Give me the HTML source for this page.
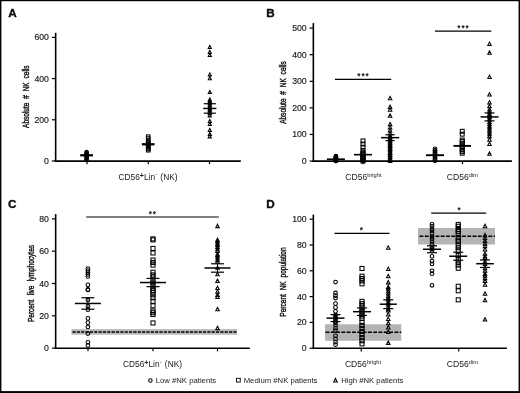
<!DOCTYPE html>
<html lang="en"><head><meta charset="utf-8"><title>Figure</title>
<style>html,body{margin:0;padding:0;background:#fff;}svg{display:block;will-change:transform;}</style></head>
<body>
<svg width="520" height="393" viewBox="0 0 520 393" font-family='"Liberation Sans", sans-serif'>
<rect x="0" y="0" width="520" height="393" fill="#fff"/>
<rect x="0" y="0" width="520" height="1.2" fill="#000"/><rect x="0" y="0" width="1.4" height="393" fill="#000"/><rect x="518.55" y="0" width="1.45" height="393" fill="#000"/><rect x="0" y="391.1" width="520" height="1.9" fill="#000"/>
<g fill="none" stroke="#000" stroke-width="1.05">
<line x1="55.65" y1="32.80" x2="55.65" y2="161.95" stroke-width="1.6"/>
<line x1="54.85" y1="161.05" x2="240.80" y2="161.05" stroke-width="1.8"/>
<line x1="51.90" y1="160.95" x2="55.65" y2="160.95" stroke-width="1.2"/>
<text x="48.95" y="163.95" text-anchor="end" font-size="8.7" stroke="#222" stroke-width="0.18" fill="#222">0</text>
<line x1="51.90" y1="119.77" x2="55.65" y2="119.77" stroke-width="1.2"/>
<text x="48.95" y="122.77" text-anchor="end" font-size="8.7" stroke="#222" stroke-width="0.18" fill="#222">200</text>
<line x1="51.90" y1="78.58" x2="55.65" y2="78.58" stroke-width="1.2"/>
<text x="48.95" y="81.58" text-anchor="end" font-size="8.7" stroke="#222" stroke-width="0.18" fill="#222">400</text>
<line x1="51.90" y1="37.40" x2="55.65" y2="37.40" stroke-width="1.2"/>
<text x="48.95" y="40.40" text-anchor="end" font-size="8.7" stroke="#222" stroke-width="0.18" fill="#222">600</text>
<line x1="87.00" y1="161.05" x2="87.00" y2="164.15" stroke-width="1.2"/>
<line x1="148.25" y1="161.05" x2="148.25" y2="164.15" stroke-width="1.2"/>
<line x1="209.50" y1="161.05" x2="209.50" y2="164.15" stroke-width="1.2"/>
<circle cx="86.60" cy="159.82" r="1.67"/>
<circle cx="86.60" cy="159.20" r="1.67"/>
<circle cx="86.60" cy="158.16" r="1.67"/>
<circle cx="86.60" cy="157.79" r="1.67"/>
<circle cx="86.60" cy="156.77" r="1.67"/>
<circle cx="86.60" cy="156.15" r="1.67"/>
<circle cx="86.60" cy="155.61" r="1.67"/>
<circle cx="86.60" cy="154.60" r="1.67"/>
<circle cx="86.60" cy="154.16" r="1.67"/>
<circle cx="86.60" cy="153.18" r="1.67"/>
<circle cx="86.60" cy="152.68" r="1.67"/>
<circle cx="86.60" cy="151.94" r="1.67"/>
<line x1="80.20" y1="155.29" x2="93.00" y2="155.29" stroke-width="2.3"/>
<rect x="146.47" y="134.92" width="3.47" height="3.47"/>
<rect x="146.47" y="136.77" width="3.47" height="3.47"/>
<rect x="146.47" y="139.24" width="3.47" height="3.47"/>
<rect x="146.47" y="148.54" width="3.47" height="3.47"/>
<rect x="146.47" y="147.26" width="3.47" height="3.47"/>
<rect x="146.47" y="146.43" width="3.47" height="3.47"/>
<rect x="146.47" y="145.27" width="3.47" height="3.47"/>
<rect x="146.47" y="143.99" width="3.47" height="3.47"/>
<rect x="146.47" y="142.74" width="3.47" height="3.47"/>
<rect x="146.47" y="141.77" width="3.47" height="3.47"/>
<rect x="146.47" y="140.73" width="3.47" height="3.47"/>
<line x1="141.90" y1="144.27" x2="154.50" y2="144.27" stroke-width="2.3"/>
<path d="M208.23 48.50L209.80 45.44L211.38 48.50Z"/>
<path d="M208.23 53.44L209.80 50.38L211.38 53.44Z"/>
<path d="M208.23 56.53L209.80 53.47L211.38 56.53Z"/>
<path d="M208.23 75.88L209.80 72.82L211.38 75.88Z"/>
<path d="M208.23 79.80L209.80 76.74L211.38 79.80Z"/>
<path d="M208.23 93.39L209.80 90.33L211.38 93.39Z"/>
<path d="M208.23 114.62L209.80 111.56L211.38 114.62Z"/>
<path d="M208.23 113.98L209.80 110.92L211.38 113.98Z"/>
<path d="M208.23 111.91L209.80 108.85L211.38 111.91Z"/>
<path d="M208.23 110.98L209.80 107.92L211.38 110.98Z"/>
<path d="M208.23 109.70L209.80 106.64L211.38 109.70Z"/>
<path d="M208.23 108.32L209.80 105.26L211.38 108.32Z"/>
<path d="M208.23 106.76L209.80 103.70L211.38 106.76Z"/>
<path d="M208.23 104.95L209.80 101.89L211.38 104.95Z"/>
<path d="M208.23 104.07L209.80 101.01L211.38 104.07Z"/>
<path d="M208.23 102.34L209.80 99.28L211.38 102.34Z"/>
<path d="M208.23 100.89L209.80 97.83L211.38 100.89Z"/>
<path d="M208.23 116.86L209.80 113.80L211.38 116.86Z"/>
<path d="M208.23 122.42L209.80 119.36L211.38 122.42Z"/>
<path d="M208.23 125.51L209.80 122.45L211.38 125.51Z"/>
<path d="M208.23 131.48L209.80 128.42L211.38 131.48Z"/>
<path d="M208.23 135.39L209.80 132.33L211.38 135.39Z"/>
<path d="M208.23 137.86L209.80 134.80L211.38 137.86Z"/>
<line x1="203.20" y1="108.44" x2="216.40" y2="108.44" stroke-width="1.5"/>
<line x1="203.70" y1="103.71" x2="215.90" y2="103.71" stroke-width="1.2"/>
<line x1="203.70" y1="113.18" x2="215.90" y2="113.18" stroke-width="1.2"/>
<line x1="209.80" y1="103.71" x2="209.80" y2="113.18" stroke-width="1.0"/>
<line x1="313.35" y1="23.10" x2="313.35" y2="162.00" stroke-width="1.6"/>
<line x1="312.55" y1="161.10" x2="511.90" y2="161.10" stroke-width="1.8"/>
<line x1="309.60" y1="161.05" x2="313.35" y2="161.05" stroke-width="1.2"/>
<text x="306.65" y="164.05" text-anchor="end" font-size="8.7" stroke="#222" stroke-width="0.18" fill="#222">0</text>
<line x1="309.60" y1="134.46" x2="313.35" y2="134.46" stroke-width="1.2"/>
<text x="306.65" y="137.46" text-anchor="end" font-size="8.7" stroke="#222" stroke-width="0.18" fill="#222">100</text>
<line x1="309.60" y1="107.87" x2="313.35" y2="107.87" stroke-width="1.2"/>
<text x="306.65" y="110.87" text-anchor="end" font-size="8.7" stroke="#222" stroke-width="0.18" fill="#222">200</text>
<line x1="309.60" y1="81.28" x2="313.35" y2="81.28" stroke-width="1.2"/>
<text x="306.65" y="84.28" text-anchor="end" font-size="8.7" stroke="#222" stroke-width="0.18" fill="#222">300</text>
<line x1="309.60" y1="54.69" x2="313.35" y2="54.69" stroke-width="1.2"/>
<text x="306.65" y="57.69" text-anchor="end" font-size="8.7" stroke="#222" stroke-width="0.18" fill="#222">400</text>
<line x1="309.60" y1="28.10" x2="313.35" y2="28.10" stroke-width="1.2"/>
<text x="306.65" y="31.10" text-anchor="end" font-size="8.7" stroke="#222" stroke-width="0.18" fill="#222">500</text>
<line x1="363.00" y1="161.10" x2="363.00" y2="164.20" stroke-width="1.2"/>
<line x1="462.50" y1="161.10" x2="462.50" y2="164.20" stroke-width="1.2"/>
<circle cx="335.90" cy="161.12" r="1.85"/>
<circle cx="335.90" cy="160.43" r="1.85"/>
<circle cx="335.90" cy="160.09" r="1.85"/>
<circle cx="335.90" cy="159.49" r="1.85"/>
<circle cx="335.90" cy="158.81" r="1.85"/>
<circle cx="335.90" cy="157.96" r="1.85"/>
<circle cx="335.90" cy="157.50" r="1.85"/>
<circle cx="335.90" cy="156.96" r="1.85"/>
<circle cx="335.90" cy="156.22" r="1.85"/>
<line x1="326.90" y1="159.19" x2="344.90" y2="159.19" stroke-width="1.6"/>
<rect x="361.07" y="159.16" width="3.85" height="3.85"/>
<rect x="361.07" y="158.25" width="3.85" height="3.85"/>
<rect x="361.07" y="156.83" width="3.85" height="3.85"/>
<rect x="361.07" y="155.88" width="3.85" height="3.85"/>
<rect x="361.07" y="155.21" width="3.85" height="3.85"/>
<rect x="361.07" y="153.91" width="3.85" height="3.85"/>
<rect x="361.07" y="152.92" width="3.85" height="3.85"/>
<rect x="361.07" y="151.61" width="3.85" height="3.85"/>
<rect x="361.07" y="150.70" width="3.85" height="3.85"/>
<rect x="361.07" y="148.49" width="3.85" height="3.85"/>
<rect x="361.07" y="145.30" width="3.85" height="3.85"/>
<rect x="361.07" y="142.11" width="3.85" height="3.85"/>
<rect x="361.07" y="138.92" width="3.85" height="3.85"/>
<line x1="354.00" y1="154.67" x2="372.00" y2="154.67" stroke-width="1.6"/>
<path d="M388.35 99.77L390.10 96.37L391.85 99.77Z"/>
<path d="M388.35 108.54L390.10 105.14L391.85 108.54Z"/>
<path d="M388.35 111.20L390.10 107.80L391.85 111.20Z"/>
<path d="M388.35 117.32L390.10 113.92L391.85 117.32Z"/>
<path d="M388.35 125.82L390.10 122.42L391.85 125.82Z"/>
<path d="M388.35 129.01L390.10 125.61L391.85 129.01Z"/>
<path d="M388.35 131.94L390.10 128.54L391.85 131.94Z"/>
<path d="M388.35 134.86L390.10 131.46L391.85 134.86Z"/>
<path d="M388.35 162.48L390.10 159.08L391.85 162.48Z"/>
<path d="M388.35 160.44L390.10 157.04L391.85 160.44Z"/>
<path d="M388.35 160.06L390.10 156.66L391.85 160.06Z"/>
<path d="M388.35 158.43L390.10 155.03L391.85 158.43Z"/>
<path d="M388.35 156.77L390.10 153.37L391.85 156.77Z"/>
<path d="M388.35 156.11L390.10 152.71L391.85 156.11Z"/>
<path d="M388.35 154.45L390.10 151.05L391.85 154.45Z"/>
<path d="M388.35 153.63L390.10 150.23L391.85 153.63Z"/>
<path d="M388.35 151.66L390.10 148.26L391.85 151.66Z"/>
<path d="M388.35 150.26L390.10 146.86L391.85 150.26Z"/>
<path d="M388.35 149.16L390.10 145.76L391.85 149.16Z"/>
<path d="M388.35 147.54L390.10 144.14L391.85 147.54Z"/>
<path d="M388.35 146.83L390.10 143.43L391.85 146.83Z"/>
<path d="M388.35 145.12L390.10 141.72L391.85 145.12Z"/>
<path d="M388.35 143.93L390.10 140.53L391.85 143.93Z"/>
<path d="M388.35 142.64L390.10 139.24L391.85 142.64Z"/>
<path d="M388.35 141.47L390.10 138.07L391.85 141.47Z"/>
<path d="M388.35 139.77L390.10 136.37L391.85 139.77Z"/>
<path d="M388.35 138.35L390.10 134.95L391.85 138.35Z"/>
<path d="M388.35 137.55L390.10 134.15L391.85 137.55Z"/>
<line x1="381.00" y1="137.65" x2="399.20" y2="137.65" stroke-width="1.5"/>
<line x1="385.50" y1="134.73" x2="394.70" y2="134.73" stroke-width="1.2"/>
<line x1="385.50" y1="140.58" x2="394.70" y2="140.58" stroke-width="1.2"/>
<line x1="390.10" y1="134.73" x2="390.10" y2="140.58" stroke-width="1.0"/>
<circle cx="435.00" cy="160.68" r="1.85"/>
<circle cx="435.00" cy="159.87" r="1.85"/>
<circle cx="435.00" cy="158.26" r="1.85"/>
<circle cx="435.00" cy="157.10" r="1.85"/>
<circle cx="435.00" cy="155.68" r="1.85"/>
<circle cx="435.00" cy="154.60" r="1.85"/>
<circle cx="435.00" cy="153.74" r="1.85"/>
<circle cx="435.00" cy="152.48" r="1.85"/>
<circle cx="435.00" cy="151.10" r="1.85"/>
<circle cx="435.00" cy="150.32" r="1.85"/>
<circle cx="435.00" cy="148.84" r="1.85"/>
<line x1="426.00" y1="155.20" x2="444.00" y2="155.20" stroke-width="1.9"/>
<rect x="460.32" y="151.32" width="3.85" height="3.85"/>
<rect x="460.32" y="149.69" width="3.85" height="3.85"/>
<rect x="460.32" y="148.06" width="3.85" height="3.85"/>
<rect x="460.32" y="146.02" width="3.85" height="3.85"/>
<rect x="460.32" y="144.70" width="3.85" height="3.85"/>
<rect x="460.32" y="142.97" width="3.85" height="3.85"/>
<rect x="460.32" y="141.23" width="3.85" height="3.85"/>
<rect x="460.32" y="139.32" width="3.85" height="3.85"/>
<rect x="460.32" y="138.08" width="3.85" height="3.85"/>
<rect x="460.32" y="132.27" width="3.85" height="3.85"/>
<rect x="460.32" y="129.34" width="3.85" height="3.85"/>
<line x1="453.45" y1="145.89" x2="471.05" y2="145.89" stroke-width="1.9"/>
<path d="M487.75 45.52L489.50 42.12L491.25 45.52Z"/>
<path d="M487.75 54.30L489.50 50.90L491.25 54.30Z"/>
<path d="M487.75 78.49L489.50 75.09L491.25 78.49Z"/>
<path d="M487.75 96.04L489.50 92.64L491.25 96.04Z"/>
<path d="M487.75 104.02L489.50 100.62L491.25 104.02Z"/>
<path d="M487.75 107.74L489.50 104.34L491.25 107.74Z"/>
<path d="M487.75 110.93L489.50 107.53L491.25 110.93Z"/>
<path d="M487.75 137.86L489.50 134.46L491.25 137.86Z"/>
<path d="M487.75 135.66L489.50 132.26L491.25 135.66Z"/>
<path d="M487.75 133.16L489.50 129.76L491.25 133.16Z"/>
<path d="M487.75 131.18L489.50 127.78L491.25 131.18Z"/>
<path d="M487.75 129.06L489.50 125.66L491.25 129.06Z"/>
<path d="M487.75 127.78L489.50 124.38L491.25 127.78Z"/>
<path d="M487.75 125.54L489.50 122.14L491.25 125.54Z"/>
<path d="M487.75 123.55L489.50 120.15L491.25 123.55Z"/>
<path d="M487.75 120.79L489.50 117.39L491.25 120.79Z"/>
<path d="M487.75 118.63L489.50 115.23L491.25 118.63Z"/>
<path d="M487.75 117.65L489.50 114.25L491.25 117.65Z"/>
<path d="M487.75 115.55L489.50 112.15L491.25 115.55Z"/>
<path d="M487.75 113.42L489.50 110.02L491.25 113.42Z"/>
<path d="M487.75 141.25L489.50 137.85L491.25 141.25Z"/>
<path d="M487.75 145.50L489.50 142.10L491.25 145.50Z"/>
<path d="M487.75 155.34L489.50 151.94L491.25 155.34Z"/>
<line x1="480.50" y1="116.91" x2="498.50" y2="116.91" stroke-width="1.5"/>
<line x1="484.50" y1="112.92" x2="494.50" y2="112.92" stroke-width="1.2"/>
<line x1="484.50" y1="120.90" x2="494.50" y2="120.90" stroke-width="1.2"/>
<line x1="489.50" y1="112.92" x2="489.50" y2="120.90" stroke-width="1.0"/>
<line x1="335.00" y1="79.40" x2="391.25" y2="79.40" stroke-width="1.1"/>
<line x1="435.00" y1="31.15" x2="491.25" y2="31.15" stroke-width="1.1"/>
<rect x="71.4" y="329.1" width="165.6" height="5.6" fill="#b8b8b8" stroke="none"/>
<line x1="72.5" y1="331.9" x2="237" y2="331.9" stroke-width="1.55" stroke-dasharray="3.1 1.25"/>
<line x1="55.65" y1="214.10" x2="55.65" y2="349.05" stroke-width="1.6"/>
<line x1="54.85" y1="348.25" x2="249.85" y2="348.25" stroke-width="1.6"/>
<line x1="51.90" y1="348.15" x2="55.65" y2="348.15" stroke-width="1.2"/>
<text x="48.95" y="351.15" text-anchor="end" font-size="8.7" stroke="#222" stroke-width="0.18" fill="#222">0</text>
<line x1="51.90" y1="315.82" x2="55.65" y2="315.82" stroke-width="1.2"/>
<text x="48.95" y="318.82" text-anchor="end" font-size="8.7" stroke="#222" stroke-width="0.18" fill="#222">20</text>
<line x1="51.90" y1="283.50" x2="55.65" y2="283.50" stroke-width="1.2"/>
<text x="48.95" y="286.50" text-anchor="end" font-size="8.7" stroke="#222" stroke-width="0.18" fill="#222">40</text>
<line x1="51.90" y1="251.18" x2="55.65" y2="251.18" stroke-width="1.2"/>
<text x="48.95" y="254.18" text-anchor="end" font-size="8.7" stroke="#222" stroke-width="0.18" fill="#222">60</text>
<line x1="51.90" y1="218.85" x2="55.65" y2="218.85" stroke-width="1.2"/>
<text x="48.95" y="221.85" text-anchor="end" font-size="8.7" stroke="#222" stroke-width="0.18" fill="#222">80</text>
<line x1="88.00" y1="348.25" x2="88.00" y2="351.35" stroke-width="1.2"/>
<line x1="153.00" y1="348.25" x2="153.00" y2="351.35" stroke-width="1.2"/>
<line x1="217.50" y1="348.25" x2="217.50" y2="351.35" stroke-width="1.2"/>
<circle cx="87.90" cy="268.63" r="1.85"/>
<circle cx="87.90" cy="270.57" r="1.85"/>
<circle cx="87.90" cy="272.51" r="1.85"/>
<circle cx="87.90" cy="274.45" r="1.85"/>
<circle cx="87.90" cy="276.39" r="1.85"/>
<circle cx="87.90" cy="284.79" r="1.85"/>
<circle cx="87.90" cy="289.48" r="1.85"/>
<circle cx="87.90" cy="289.96" r="1.85"/>
<circle cx="87.90" cy="299.99" r="1.85"/>
<circle cx="87.90" cy="306.13" r="1.85"/>
<circle cx="87.90" cy="309.68" r="1.85"/>
<circle cx="87.90" cy="318.41" r="1.85"/>
<circle cx="87.90" cy="322.61" r="1.85"/>
<circle cx="87.90" cy="326.98" r="1.85"/>
<circle cx="87.90" cy="333.60" r="1.85"/>
<circle cx="87.90" cy="342.33" r="1.85"/>
<circle cx="87.90" cy="345.40" r="1.85"/>
<line x1="74.90" y1="303.46" x2="100.90" y2="303.46" stroke-width="1.5"/>
<line x1="81.40" y1="297.72" x2="94.40" y2="297.72" stroke-width="1.2"/>
<line x1="81.40" y1="309.20" x2="94.40" y2="309.20" stroke-width="1.2"/>
<line x1="87.90" y1="297.72" x2="87.90" y2="309.20" stroke-width="1.0"/>
<rect x="150.97" y="236.87" width="4.05" height="4.05"/>
<rect x="150.97" y="237.84" width="4.05" height="4.05"/>
<rect x="150.97" y="246.40" width="4.05" height="4.05"/>
<rect x="150.97" y="250.93" width="4.05" height="4.05"/>
<rect x="150.97" y="258.04" width="4.05" height="4.05"/>
<rect x="150.97" y="260.46" width="4.05" height="4.05"/>
<rect x="150.97" y="263.05" width="4.05" height="4.05"/>
<rect x="150.97" y="270.16" width="4.05" height="4.05"/>
<rect x="150.97" y="272.91" width="4.05" height="4.05"/>
<rect x="150.97" y="295.73" width="4.05" height="4.05"/>
<rect x="150.97" y="292.82" width="4.05" height="4.05"/>
<rect x="150.97" y="290.19" width="4.05" height="4.05"/>
<rect x="150.97" y="288.40" width="4.05" height="4.05"/>
<rect x="150.97" y="286.48" width="4.05" height="4.05"/>
<rect x="150.97" y="283.25" width="4.05" height="4.05"/>
<rect x="150.97" y="280.92" width="4.05" height="4.05"/>
<rect x="150.97" y="278.11" width="4.05" height="4.05"/>
<rect x="150.97" y="274.94" width="4.05" height="4.05"/>
<rect x="150.97" y="299.25" width="4.05" height="4.05"/>
<rect x="150.97" y="303.78" width="4.05" height="4.05"/>
<rect x="150.97" y="308.95" width="4.05" height="4.05"/>
<rect x="150.97" y="310.73" width="4.05" height="4.05"/>
<rect x="150.97" y="312.51" width="4.05" height="4.05"/>
<rect x="150.97" y="320.91" width="4.05" height="4.05"/>
<line x1="140.00" y1="282.53" x2="166.00" y2="282.53" stroke-width="1.5"/>
<line x1="146.50" y1="278.41" x2="159.50" y2="278.41" stroke-width="1.2"/>
<line x1="146.50" y1="286.65" x2="159.50" y2="286.65" stroke-width="1.2"/>
<line x1="153.00" y1="278.41" x2="153.00" y2="286.65" stroke-width="1.0"/>
<path d="M215.75 227.64L217.50 224.24L219.25 227.64Z"/>
<path d="M215.75 263.05L217.50 259.65L219.25 263.05Z"/>
<path d="M215.75 261.29L217.50 257.89L219.25 261.29Z"/>
<path d="M215.75 259.08L217.50 255.68L219.25 259.08Z"/>
<path d="M215.75 256.95L217.50 253.55L219.25 256.95Z"/>
<path d="M215.75 255.91L217.50 252.51L219.25 255.91Z"/>
<path d="M215.75 252.50L217.50 249.10L219.25 252.50Z"/>
<path d="M215.75 250.65L217.50 247.25L219.25 250.65Z"/>
<path d="M215.75 248.46L217.50 245.06L219.25 248.46Z"/>
<path d="M215.75 246.54L217.50 243.14L219.25 246.54Z"/>
<path d="M215.75 245.15L217.50 241.75L219.25 245.15Z"/>
<path d="M215.75 243.10L217.50 239.70L219.25 243.10Z"/>
<path d="M215.75 241.53L217.50 238.13L219.25 241.53Z"/>
<path d="M215.75 269.34L217.50 265.94L219.25 269.34Z"/>
<path d="M215.75 275.80L217.50 272.40L219.25 275.80Z"/>
<path d="M215.75 282.59L217.50 279.19L219.25 282.59Z"/>
<path d="M215.75 289.54L217.50 286.14L219.25 289.54Z"/>
<path d="M215.75 293.26L217.50 289.86L219.25 293.26Z"/>
<path d="M215.75 296.49L217.50 293.09L219.25 296.49Z"/>
<path d="M215.75 298.43L217.50 295.03L219.25 298.43Z"/>
<path d="M215.75 310.71L217.50 307.31L219.25 310.71Z"/>
<path d="M215.75 329.62L217.50 326.22L219.25 329.62Z"/>
<line x1="204.50" y1="267.98" x2="230.50" y2="267.98" stroke-width="1.5"/>
<line x1="211.00" y1="263.78" x2="224.00" y2="263.78" stroke-width="1.2"/>
<line x1="211.00" y1="272.19" x2="224.00" y2="272.19" stroke-width="1.2"/>
<line x1="217.50" y1="263.78" x2="217.50" y2="272.19" stroke-width="1.0"/>
<line x1="86.25" y1="217.00" x2="218.75" y2="217.00" stroke-width="1.15"/>
<rect x="325" y="324.25" width="76.25" height="16.5" fill="#b4b4b4" stroke="none"/>
<line x1="325.5" y1="332.2" x2="401.25" y2="332.2" stroke-width="1.5" stroke-dasharray="3.9 1.4"/>
<rect x="418" y="228" width="77" height="16.5" fill="#b4b4b4" stroke="none"/>
<line x1="419.5" y1="236.3" x2="495" y2="236.3" stroke-width="1.5" stroke-dasharray="3.9 1.4"/>
<line x1="313.35" y1="214.60" x2="313.35" y2="349.10" stroke-width="1.6"/>
<line x1="312.55" y1="348.30" x2="506.90" y2="348.30" stroke-width="1.6"/>
<line x1="309.60" y1="348.20" x2="313.35" y2="348.20" stroke-width="1.2"/>
<text x="306.65" y="351.20" text-anchor="end" font-size="8.7" stroke="#222" stroke-width="0.18" fill="#222">0</text>
<line x1="309.60" y1="322.40" x2="313.35" y2="322.40" stroke-width="1.2"/>
<text x="306.65" y="325.40" text-anchor="end" font-size="8.7" stroke="#222" stroke-width="0.18" fill="#222">20</text>
<line x1="309.60" y1="296.60" x2="313.35" y2="296.60" stroke-width="1.2"/>
<text x="306.65" y="299.60" text-anchor="end" font-size="8.7" stroke="#222" stroke-width="0.18" fill="#222">40</text>
<line x1="309.60" y1="270.80" x2="313.35" y2="270.80" stroke-width="1.2"/>
<text x="306.65" y="273.80" text-anchor="end" font-size="8.7" stroke="#222" stroke-width="0.18" fill="#222">60</text>
<line x1="309.60" y1="245.00" x2="313.35" y2="245.00" stroke-width="1.2"/>
<text x="306.65" y="248.00" text-anchor="end" font-size="8.7" stroke="#222" stroke-width="0.18" fill="#222">80</text>
<line x1="309.60" y1="219.20" x2="313.35" y2="219.20" stroke-width="1.2"/>
<text x="306.65" y="222.20" text-anchor="end" font-size="8.7" stroke="#222" stroke-width="0.18" fill="#222">100</text>
<line x1="361.25" y1="348.30" x2="361.25" y2="351.40" stroke-width="1.2"/>
<line x1="458.75" y1="348.30" x2="458.75" y2="351.40" stroke-width="1.2"/>
<circle cx="335.50" cy="282.02" r="1.85"/>
<circle cx="335.50" cy="292.99" r="1.85"/>
<circle cx="335.50" cy="295.70" r="1.85"/>
<circle cx="335.50" cy="298.02" r="1.85"/>
<circle cx="335.50" cy="303.57" r="1.85"/>
<circle cx="335.50" cy="307.44" r="1.85"/>
<circle cx="335.50" cy="311.31" r="1.85"/>
<circle cx="335.50" cy="315.05" r="1.85"/>
<circle cx="335.50" cy="317.24" r="1.85"/>
<circle cx="335.50" cy="319.18" r="1.85"/>
<circle cx="335.50" cy="321.11" r="1.85"/>
<circle cx="335.50" cy="322.79" r="1.85"/>
<circle cx="335.50" cy="325.11" r="1.85"/>
<circle cx="335.50" cy="328.20" r="1.85"/>
<circle cx="335.50" cy="330.53" r="1.85"/>
<circle cx="335.50" cy="335.82" r="1.85"/>
<circle cx="335.50" cy="338.91" r="1.85"/>
<circle cx="335.50" cy="342.01" r="1.85"/>
<circle cx="335.50" cy="344.59" r="1.85"/>
<line x1="326.50" y1="318.14" x2="344.50" y2="318.14" stroke-width="1.5"/>
<line x1="330.50" y1="314.66" x2="340.50" y2="314.66" stroke-width="1.2"/>
<line x1="330.50" y1="321.63" x2="340.50" y2="321.63" stroke-width="1.2"/>
<line x1="335.50" y1="314.66" x2="335.50" y2="321.63" stroke-width="1.0"/>
<rect x="359.98" y="266.45" width="4.05" height="4.05"/>
<rect x="359.98" y="274.19" width="4.05" height="4.05"/>
<rect x="359.98" y="276.51" width="4.05" height="4.05"/>
<rect x="359.98" y="278.84" width="4.05" height="4.05"/>
<rect x="359.98" y="281.80" width="4.05" height="4.05"/>
<rect x="359.98" y="299.35" width="4.05" height="4.05"/>
<rect x="359.98" y="301.67" width="4.05" height="4.05"/>
<rect x="359.98" y="303.99" width="4.05" height="4.05"/>
<rect x="359.98" y="306.96" width="4.05" height="4.05"/>
<rect x="359.98" y="309.41" width="4.05" height="4.05"/>
<rect x="359.98" y="311.99" width="4.05" height="4.05"/>
<rect x="359.98" y="314.05" width="4.05" height="4.05"/>
<rect x="359.98" y="316.38" width="4.05" height="4.05"/>
<rect x="359.98" y="320.25" width="4.05" height="4.05"/>
<rect x="359.98" y="323.34" width="4.05" height="4.05"/>
<rect x="359.98" y="326.44" width="4.05" height="4.05"/>
<rect x="359.98" y="329.41" width="4.05" height="4.05"/>
<rect x="359.98" y="332.63" width="4.05" height="4.05"/>
<rect x="359.98" y="335.60" width="4.05" height="4.05"/>
<rect x="359.98" y="338.69" width="4.05" height="4.05"/>
<rect x="359.98" y="341.79" width="4.05" height="4.05"/>
<line x1="353.00" y1="311.69" x2="371.00" y2="311.69" stroke-width="1.5"/>
<line x1="357.00" y1="307.95" x2="367.00" y2="307.95" stroke-width="1.2"/>
<line x1="357.00" y1="315.43" x2="367.00" y2="315.43" stroke-width="1.2"/>
<line x1="362.00" y1="307.95" x2="362.00" y2="315.43" stroke-width="1.0"/>
<path d="M386.50 249.19L388.25 245.79L390.00 249.19Z"/>
<path d="M386.50 270.48L388.25 267.08L390.00 270.48Z"/>
<path d="M386.50 277.70L388.25 274.30L390.00 277.70Z"/>
<path d="M386.50 283.89L388.25 280.49L390.00 283.89Z"/>
<path d="M386.50 311.90L388.25 308.50L390.00 311.90Z"/>
<path d="M386.50 310.71L388.25 307.31L390.00 310.71Z"/>
<path d="M386.50 308.47L388.25 305.07L390.00 308.47Z"/>
<path d="M386.50 305.99L388.25 302.59L390.00 305.99Z"/>
<path d="M386.50 303.84L388.25 300.44L390.00 303.84Z"/>
<path d="M386.50 301.29L388.25 297.89L390.00 301.29Z"/>
<path d="M386.50 299.58L388.25 296.18L390.00 299.58Z"/>
<path d="M386.50 297.45L388.25 294.05L390.00 297.45Z"/>
<path d="M386.50 294.95L388.25 291.55L390.00 294.95Z"/>
<path d="M386.50 292.81L388.25 289.41L390.00 292.81Z"/>
<path d="M386.50 290.11L388.25 286.71L390.00 290.11Z"/>
<path d="M386.50 288.49L388.25 285.09L390.00 288.49Z"/>
<path d="M386.50 316.01L388.25 312.62L390.00 316.01Z"/>
<path d="M386.50 320.53L388.25 317.13L390.00 320.53Z"/>
<path d="M386.50 324.66L388.25 321.26L390.00 324.66Z"/>
<path d="M386.50 328.91L388.25 325.51L390.00 328.91Z"/>
<path d="M386.50 333.43L388.25 330.03L390.00 333.43Z"/>
<path d="M386.50 344.39L388.25 341.00L390.00 344.39Z"/>
<line x1="379.75" y1="304.21" x2="396.75" y2="304.21" stroke-width="1.5"/>
<line x1="383.25" y1="299.82" x2="393.25" y2="299.82" stroke-width="1.2"/>
<line x1="383.25" y1="308.60" x2="393.25" y2="308.60" stroke-width="1.2"/>
<line x1="388.25" y1="299.82" x2="388.25" y2="308.60" stroke-width="1.0"/>
<circle cx="432.00" cy="250.87" r="1.85"/>
<circle cx="432.00" cy="248.75" r="1.85"/>
<circle cx="432.00" cy="246.95" r="1.85"/>
<circle cx="432.00" cy="244.27" r="1.85"/>
<circle cx="432.00" cy="241.60" r="1.85"/>
<circle cx="432.00" cy="239.05" r="1.85"/>
<circle cx="432.00" cy="236.91" r="1.85"/>
<circle cx="432.00" cy="233.26" r="1.85"/>
<circle cx="432.00" cy="230.52" r="1.85"/>
<circle cx="432.00" cy="228.81" r="1.85"/>
<circle cx="432.00" cy="226.26" r="1.85"/>
<circle cx="432.00" cy="224.36" r="1.85"/>
<circle cx="432.00" cy="256.35" r="1.85"/>
<circle cx="432.00" cy="261.12" r="1.85"/>
<circle cx="432.00" cy="263.96" r="1.85"/>
<circle cx="432.00" cy="270.80" r="1.85"/>
<circle cx="432.00" cy="273.64" r="1.85"/>
<circle cx="432.00" cy="285.25" r="1.85"/>
<line x1="423.00" y1="249.26" x2="441.00" y2="249.26" stroke-width="1.5"/>
<line x1="427.00" y1="245.77" x2="437.00" y2="245.77" stroke-width="1.2"/>
<line x1="427.00" y1="252.74" x2="437.00" y2="252.74" stroke-width="1.2"/>
<line x1="432.00" y1="245.77" x2="432.00" y2="252.74" stroke-width="1.0"/>
<rect x="456.23" y="248.75" width="4.05" height="4.05"/>
<rect x="456.23" y="245.73" width="4.05" height="4.05"/>
<rect x="456.23" y="243.21" width="4.05" height="4.05"/>
<rect x="456.23" y="239.69" width="4.05" height="4.05"/>
<rect x="456.23" y="238.08" width="4.05" height="4.05"/>
<rect x="456.23" y="235.65" width="4.05" height="4.05"/>
<rect x="456.23" y="231.57" width="4.05" height="4.05"/>
<rect x="456.23" y="229.58" width="4.05" height="4.05"/>
<rect x="456.23" y="227.53" width="4.05" height="4.05"/>
<rect x="456.23" y="224.27" width="4.05" height="4.05"/>
<rect x="456.23" y="222.42" width="4.05" height="4.05"/>
<rect x="456.23" y="253.29" width="4.05" height="4.05"/>
<rect x="456.23" y="257.81" width="4.05" height="4.05"/>
<rect x="456.23" y="260.39" width="4.05" height="4.05"/>
<rect x="456.23" y="262.97" width="4.05" height="4.05"/>
<rect x="456.23" y="266.19" width="4.05" height="4.05"/>
<rect x="456.23" y="284.25" width="4.05" height="4.05"/>
<rect x="456.23" y="288.77" width="4.05" height="4.05"/>
<rect x="456.23" y="297.80" width="4.05" height="4.05"/>
<line x1="449.25" y1="256.22" x2="467.25" y2="256.22" stroke-width="1.5"/>
<line x1="453.25" y1="252.22" x2="463.25" y2="252.22" stroke-width="1.2"/>
<line x1="453.25" y1="260.22" x2="463.25" y2="260.22" stroke-width="1.2"/>
<line x1="458.25" y1="252.22" x2="458.25" y2="260.22" stroke-width="1.0"/>
<path d="M483.25 227.65L485.00 224.25L486.75 227.65Z"/>
<path d="M483.25 286.28L485.00 282.88L486.75 286.28Z"/>
<path d="M483.25 282.35L485.00 278.95L486.75 282.35Z"/>
<path d="M483.25 279.73L485.00 276.33L486.75 279.73Z"/>
<path d="M483.25 277.24L485.00 273.84L486.75 277.24Z"/>
<path d="M483.25 275.37L485.00 271.97L486.75 275.37Z"/>
<path d="M483.25 272.24L485.00 268.84L486.75 272.24Z"/>
<path d="M483.25 269.82L485.00 266.42L486.75 269.82Z"/>
<path d="M483.25 265.53L485.00 262.13L486.75 265.53Z"/>
<path d="M483.25 263.20L485.00 259.80L486.75 263.20Z"/>
<path d="M483.25 259.75L485.00 256.35L486.75 259.75Z"/>
<path d="M483.25 257.91L485.00 254.51L486.75 257.91Z"/>
<path d="M483.25 255.27L485.00 251.87L486.75 255.27Z"/>
<path d="M483.25 251.02L485.00 247.62L486.75 251.02Z"/>
<path d="M483.25 247.73L485.00 244.33L486.75 247.73Z"/>
<path d="M483.25 245.16L485.00 241.76L486.75 245.16Z"/>
<path d="M483.25 242.38L485.00 238.98L486.75 242.38Z"/>
<path d="M483.25 239.47L485.00 236.07L486.75 239.47Z"/>
<path d="M483.25 236.77L485.00 233.37L486.75 236.77Z"/>
<path d="M483.25 295.25L485.00 291.85L486.75 295.25Z"/>
<path d="M483.25 301.70L485.00 298.30L486.75 301.70Z"/>
<path d="M483.25 321.05L485.00 317.65L486.75 321.05Z"/>
<line x1="476.20" y1="263.70" x2="493.80" y2="263.70" stroke-width="1.5"/>
<line x1="480.00" y1="259.96" x2="490.00" y2="259.96" stroke-width="1.2"/>
<line x1="480.00" y1="267.45" x2="490.00" y2="267.45" stroke-width="1.2"/>
<line x1="485.00" y1="259.96" x2="485.00" y2="267.45" stroke-width="1.0"/>
<line x1="334.50" y1="233.40" x2="389.50" y2="233.40" stroke-width="1.1"/>
<line x1="431.25" y1="213.15" x2="486.25" y2="213.15" stroke-width="1.1"/>
<circle cx="150.40" cy="380.40" r="1.75"/>
<g stroke-width="0.9"><rect x="236.55" y="378.35" width="3.70" height="3.70"/></g>
<path d="M333.75 381.90L335.50 378.50L337.25 381.90Z"/>
</g>
<g stroke="none" fill="#111">
<text transform="translate(28.8,96.7) rotate(-90) scale(0.71,1)" text-anchor="middle" word-spacing="2.8" font-size="9.2" stroke="#111" stroke-width="0.42" fill="#111">Absolute # NK cells</text>
<text transform="translate(286.2,92.6) rotate(-90) scale(0.71,1)" text-anchor="middle" word-spacing="2.8" font-size="9.2" stroke="#111" stroke-width="0.42" fill="#111">Absolute # NK cells</text>
<text transform="translate(33.7,283.5) rotate(-90) scale(0.71,1)" text-anchor="middle" word-spacing="3.5" font-size="9.2" stroke="#111" stroke-width="0.42" fill="#111">Percent live lymphocytes</text>
<text transform="translate(285.5,282.0) rotate(-90) scale(0.71,1)" text-anchor="middle" word-spacing="2.8" font-size="9.2" stroke="#111" stroke-width="0.42" fill="#111">Percent NK population</text>
<text x="148.0" y="179.7" text-anchor="middle" font-size="8.35" stroke="none" fill="#1a1a1a">CD56<tspan font-size="7" font-weight="bold" dy="-2.1">+</tspan><tspan dy="2.1">Lin</tspan><tspan font-size="5" dy="-3.4" dx="0.4">-</tspan><tspan dy="3.4" dx="0.9"> (NK)</tspan></text>
<text x="152.5" y="366.9" text-anchor="middle" font-size="8.35" stroke="none" fill="#1a1a1a">CD56<tspan font-size="7" font-weight="bold" dy="-2.1">+</tspan><tspan dy="2.1">Lin</tspan><tspan font-size="5" dy="-3.4" dx="0.4">-</tspan><tspan dy="3.4" dx="0.9"> (NK)</tspan></text>
<text x="363.4" y="179.6" text-anchor="middle" font-size="8.6" stroke="none" fill="#1a1a1a">CD56<tspan font-size="5.7" dy="-3.0">bright</tspan></text>
<text x="462.4" y="179.6" text-anchor="middle" font-size="8.6" stroke="none" fill="#1a1a1a">CD56<tspan font-size="5.7" dy="-3.0">dim</tspan></text>
<text x="363.0" y="366.8" text-anchor="middle" font-size="8.6" stroke="none" fill="#1a1a1a">CD56<tspan font-size="5.7" dy="-3.0">bright</tspan></text>
<text x="462.3" y="366.8" text-anchor="middle" font-size="8.6" stroke="none" fill="#1a1a1a">CD56<tspan font-size="5.7" dy="-3.0">dim</tspan></text>
<text x="363.42" y="78.85" text-anchor="middle" font-size="8.2" font-weight="bold" letter-spacing="0.85" stroke="none" fill="#111">***</text>
<text x="463.42" y="30.95" text-anchor="middle" font-size="8.2" font-weight="bold" letter-spacing="0.85" stroke="none" fill="#111">***</text>
<text x="152.86999999999998" y="216.65" text-anchor="middle" font-size="8.2" font-weight="bold" letter-spacing="0.85" stroke="none" fill="#111">**</text>
<text x="361.82" y="233.2" text-anchor="middle" font-size="8.2" font-weight="bold" letter-spacing="0.85" stroke="none" fill="#111">*</text>
<text x="459.62" y="213.0" text-anchor="middle" font-size="8.2" font-weight="bold" letter-spacing="0.85" stroke="none" fill="#111">*</text>
<text x="8.3" y="17.3" font-size="11.7" font-weight="bold" stroke="#000" stroke-width="0.35">A</text>
<text x="266.3" y="17.3" font-size="11.7" font-weight="bold" stroke="#000" stroke-width="0.35">B</text>
<text x="8.0" y="208.3" font-size="11.7" font-weight="bold" stroke="#000" stroke-width="0.35">C</text>
<text x="266.2" y="208.3" font-size="11.7" font-weight="bold" stroke="#000" stroke-width="0.35">D</text>
<text x="155.7" y="382.8" font-size="7.72" fill="#1a1a1a">Low #NK patients</text>
<text x="243.7" y="382.8" font-size="7.72" fill="#1a1a1a">Medium #NK patients</text>
<text x="341.2" y="382.8" font-size="7.72" fill="#1a1a1a">High #NK patients</text>
</g>
</svg>
</body></html>
